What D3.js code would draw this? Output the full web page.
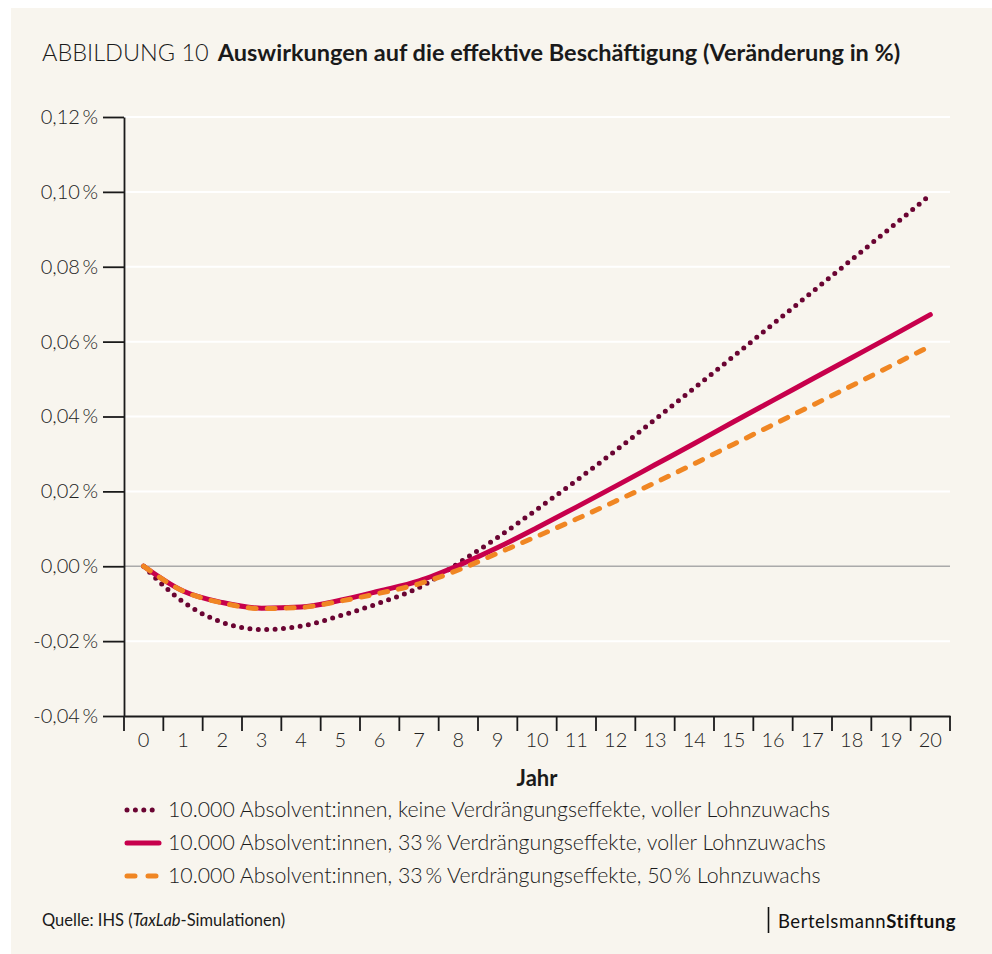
<!DOCTYPE html>
<html>
<head>
<meta charset="utf-8">
<script src="https://cdn.jsdelivr.net/npm/d3@7"></script>
<style>
  body { margin: 0; background: #fff; }
  svg { display: block; font-family: Lato, "Noto Sans", sans-serif; }
</style>
</head>
<body>
<div id="chart"></div>
<script>
// data
var years = d3.range(0, 21);
var yTicks = [-0.04, -0.02, 0, 0.02, 0.04, 0.06, 0.08, 0.10, 0.12];
var keineVerdraengung = [0, -0.0095, -0.0150, -0.0169, -0.0160, -0.0132, -0.0098, -0.0057, 0.0008, 0.0077, 0.0152, 0.0229, 0.0309, 0.0392, 0.0476, 0.0561, 0.0647, 0.0733, 0.0819, 0.0905, 0.0992];
var verdraengung33 = [0, -0.0066, -0.0097, -0.0112, -0.0109, -0.0091, -0.0066, -0.0039, 0.0002, 0.0050, 0.0103, 0.0158, 0.0214, 0.0271, 0.0328, 0.0386, 0.0443, 0.0500, 0.0557, 0.0614, 0.0672];
var lohn50 = [0, -0.0066, -0.0098, -0.0113, -0.0110, -0.0093, -0.0072, -0.0047, -0.0010, 0.0035, 0.0080, 0.0126, 0.0174, 0.0223, 0.0274, 0.0326, 0.0378, 0.0430, 0.0482, 0.0535, 0.0588];
var seriesNames = [
  "10.000 Absolvent:innen, keine Verdrängungseffekte, voller Lohnzuwachs",
  "10.000 Absolvent:innen, 33\u2009% Verdrängungseffekte, voller Lohnzuwachs",
  "10.000 Absolvent:innen, 33\u2009% Verdrängungseffekte, 50\u2009% Lohnzuwachs"
];

// setup
var w = 992, h = 954;
var svg = d3.select("#chart").append("svg")
  .attr("width", w).attr("height", h);

svg.append("rect")
  .attr("x", 11).attr("y", 8)
  .attr("width", w - 11).attr("height", h - 8)
  .attr("fill", "#f8f5ee");

var mLeft = 124, mRight = 950, mTop = 117, mBottom = 716;

var x = d3.scaleBand().domain(years).range([mLeft, mRight]).padding(0);
var y = d3.scaleLinear().domain([-0.04, 0.12]).range([mBottom, mTop]);
var fmt = function(v){ return d3.format(".2f")(v).replace(".", ",").replace("\u2212", "-") + "\u2009%"; };

// title
var title = svg.append("text").attr("x", 42).attr("y", 61)
  .attr("font-size", 23.5).attr("fill", "#1a1a1a");
title.append("tspan").attr("font-weight", 300).text("ABBILDUNG 10");
title.append("tspan").attr("font-weight", 700).attr("dx", 9)
  .text("Auswirkungen auf die effektive Beschäftigung (Veränderung in %)");

// gridlines
svg.append("g").selectAll("line")
  .data(yTicks.filter(function(d){ return d !== -0.04; }))
  .enter().append("line")
    .attr("x1", mLeft).attr("x2", mRight)
    .attr("y1", function(d){ return y(d); })
    .attr("y2", function(d){ return y(d); })
    .attr("stroke", function(d){ return d === 0 ? "#aaaaaa" : "#ffffff"; })
    .attr("stroke-width", function(d){ return d === 0 ? 1.5 : 2; });

// y axis
var yAxis = svg.append("g")
  .attr("transform", "translate(" + mLeft + ",0)")
  .call(d3.axisLeft(y).tickValues(yTicks).tickSize(21).tickSizeOuter(0).tickPadding(5).tickFormat(fmt));
yAxis.select(".domain").attr("stroke", "#1a1a1a").attr("stroke-width", 1.8);
yAxis.selectAll(".tick line").attr("stroke", "#1a1a1a").attr("stroke-width", 1.8);
yAxis.selectAll(".tick text")
  .attr("font-family", "Lato, sans-serif")
  .attr("font-size", 20).attr("font-weight", 300).attr("fill", "#222");

// x axis
var xAxis = svg.append("g")
  .attr("transform", "translate(0," + mBottom + ")")
  .call(d3.axisBottom(x).tickSize(0).tickPadding(17));
xAxis.select(".domain").attr("stroke", "#1a1a1a").attr("stroke-width", 1.8);
xAxis.selectAll(".tick text")
  .attr("font-family", "Lato, sans-serif")
  .attr("font-size", 20).attr("font-weight", 300).attr("fill", "#222");

// band boundary ticks
var bounds = years.map(function(d){ return x(d); }).concat([x(years[years.length - 1]) + x.step()]);
xAxis.append("g").selectAll("line")
  .data(bounds).enter().append("line")
    .attr("x1", function(d){ return d; }).attr("x2", function(d){ return d; })
    .attr("y1", 0).attr("y2", 15)
    .attr("stroke", "#1a1a1a").attr("stroke-width", 1.8);

svg.append("text")
  .attr("x", (mLeft + mRight) / 2).attr("y", 786)
  .attr("text-anchor", "middle")
  .attr("font-size", 22).attr("font-weight", 700).attr("fill", "#1a1a1a")
  .text("Jahr");

// lines
var styles = [
  { color: "#6a0432", dash: "0 8.4", data: keineVerdraengung },
  { color: "#c7004c", dash: null, data: verdraengung33 },
  { color: "#f08623", dash: "8 11", data: lohn50 }
];
var line = d3.line()
  .x(function(d, i){ return x(years[i]) + x.bandwidth() / 2; })
  .y(function(d){ return y(d); })
  .curve(d3.curveMonotoneX);

var order = [0, 1, 2];
svg.append("g").selectAll("path")
  .data(order).enter().append("path")
    .attr("d", function(i){ return line(styles[i].data); })
    .attr("fill", "none")
    .attr("stroke", function(i){ return styles[i].color; })
    .attr("stroke-width", 5)
    .attr("stroke-linecap", "round")
    .attr("stroke-linejoin", "round")
    .attr("stroke-dasharray", function(i){ return styles[i].dash; });

// legend
var legend = svg.append("g").selectAll("g")
  .data(order).enter().append("g")
    .attr("transform", function(i){ return "translate(0," + (810 + i * 33) + ")"; });
legend.append("line")
  .attr("x1", 127).attr("x2", 159)
  .attr("stroke", function(i){ return styles[i].color; })
  .attr("stroke-width", 5)
  .attr("stroke-linecap", "round")
  .attr("stroke-dasharray", function(i){ return i === 2 ? "8 13" : styles[i].dash; });
legend.append("text")
  .attr("x", 168).attr("y", 0).attr("dy", "0.35em")
  .attr("font-size", 21.3).attr("font-weight", 300).attr("fill", "#1a1a1a")
  .text(function(i){ return seriesNames[i]; });

// footer
var src = svg.append("text").attr("x", 42).attr("y", 926)
  .attr("font-size", 16.5).attr("fill", "#1a1a1a");
src.append("tspan").text("Quelle: IHS (");
src.append("tspan").attr("font-style", "italic").text("TaxLab");
src.append("tspan").text("-Simulationen)");

svg.append("line")
  .attr("x1", 768.5).attr("x2", 768.5).attr("y1", 907).attr("y2", 933)
  .attr("stroke", "#111").attr("stroke-width", 1.6);
var logo = svg.append("text").attr("x", 778).attr("y", 928)
  .attr("font-size", 18.5).attr("fill", "#111").attr("letter-spacing", 0.55);
logo.append("tspan").text("Bertelsmann");
logo.append("tspan").attr("font-weight", 700).text("Stiftung");
</script>
</body>
</html>
